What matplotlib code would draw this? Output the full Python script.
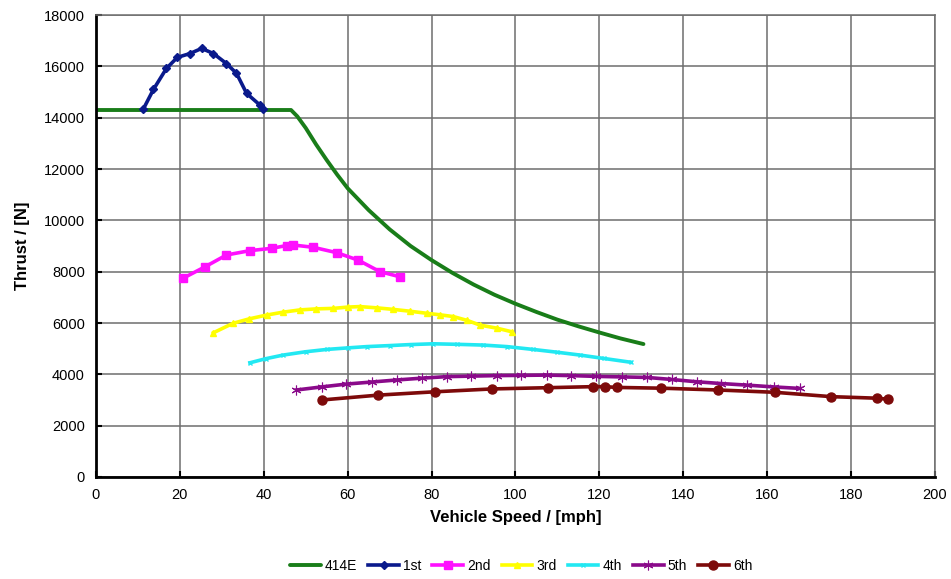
import matplotlib.pyplot as plt
import numpy as np

plt.rcParams['font.family'] = ['Liberation Sans', 'DejaVu Sans']

# Engine envelope (414E) - thrust vs speed
env_speed = [0, 10, 20, 30, 40, 46.5, 48, 50, 52.5, 55, 57.5, 60, 65, 70, 75,
             80, 85, 90, 95, 100, 105, 110, 115, 120, 125, 130.5]
env_thrust = [14300, 14300, 14300, 14300, 14300, 14300, 14050, 13600, 12950,
              12350, 11780, 11250, 10400, 9650, 9000, 8450, 7950, 7500, 7100,
              6750, 6430, 6130, 5870, 5630, 5400, 5180]

# Gear curves
g1_speed = [11.3, 13.7, 16.8, 19.4, 22.4, 25.2, 28.0, 31.1, 33.5, 35.9, 39.1, 39.9]
g1_thrust = [14340, 15100, 15920, 16350, 16500, 16700, 16500, 16110, 15730,
             14950, 14490, 14340]

g2_speed = [20.7, 26.0, 31.1, 36.7, 41.9, 45.5, 47.0, 51.8, 57.4, 62.5, 67.7, 72.5]
g2_thrust = [7740, 8190, 8650, 8820, 8910, 9020, 9040, 8950, 8740, 8450, 8000, 7800]

g3_speed = [28.0, 32.7, 36.5, 40.7, 44.5, 48.6, 52.5, 56.6, 60.0, 62.9, 67.0,
            70.9, 74.8, 78.8, 82.0, 85.2, 88.5, 91.5, 95.5, 99.1]
g3_thrust = [5620, 5990, 6160, 6310, 6420, 6510, 6550, 6570, 6620, 6640, 6590,
             6530, 6460, 6380, 6320, 6250, 6100, 5920, 5800, 5660]

g4_speed = [36.7, 40.5, 44.6, 50.0, 55.0, 60.0, 64.5, 70.0, 75.0, 80.4, 86.0,
            92.3, 98.0, 104.2, 110.0, 115.4, 121.0, 127.5]
g4_thrust = [4450, 4610, 4750, 4880, 4970, 5030, 5080, 5120, 5160, 5190, 5170,
             5140, 5080, 4970, 4860, 4750, 4620, 4470]

g5_speed = [47.8, 53.8, 59.7, 65.7, 71.7, 77.6, 83.6, 89.5, 95.5, 101.4, 107.4,
            113.3, 119.3, 125.3, 131.3, 137.2, 143.2, 149.1, 155.1, 161.5, 167.8]
g5_thrust = [3390, 3510, 3620, 3700, 3780, 3850, 3910, 3930, 3950, 3960, 3970,
             3950, 3920, 3900, 3880, 3800, 3710, 3640, 3580, 3510, 3450]

g6_speed = [53.8, 67.3, 80.8, 94.3, 107.8, 118.5, 121.3, 124.1, 134.8, 148.3,
            161.8, 175.3, 186.1, 188.9]
g6_thrust = [3000, 3190, 3320, 3430, 3480, 3520, 3520, 3490, 3460, 3390, 3300,
             3130, 3070, 3030]

fig = plt.figure(figsize=(9.51, 5.79), dpi=100)
ax = fig.add_axes([0.1009, 0.1762, 0.8823, 0.7978])

ax.plot(env_speed, env_thrust, color='#197d19', lw=2.8, label='414E',
        solid_capstyle='round', solid_joinstyle='round')
ax.plot(g1_speed, g1_thrust, color='#0a1a8c', lw=2.6, marker='D', ms=4.5,
        label='1st')
ax.plot(g2_speed, g2_thrust, color='#ff10ff', lw=2.6, marker='s', ms=6,
        label='2nd')
ax.plot(g3_speed, g3_thrust, color='#ffff00', lw=2.6, marker='^', ms=5,
        label='3rd')
ax.plot(g4_speed, g4_thrust, color='#22e8f2', lw=2.6, marker='x', ms=3,
        mew=1, label='4th')
ax.plot(g5_speed, g5_thrust, color='#8a0a8a', lw=2.6, marker=(6, 2, 0), ms=7,
        mew=0.8, label='5th')
ax.plot(g6_speed, g6_thrust, color='#7d0a0a', lw=2.6, marker='o', ms=6.5,
        label='6th')

ax.set_xlim(0, 200)
ax.set_ylim(0, 18000)
ax.set_xticks(np.arange(0, 201, 20))
ax.set_yticks(np.arange(0, 18001, 2000))
ax.grid(True, color='#6e6e6e', lw=1.1)
ax.set_axisbelow(True)

for side in ['top', 'right']:
    ax.spines[side].set_color('#6e6e6e')
    ax.spines[side].set_linewidth(1.1)
for side in ['left', 'bottom']:
    ax.spines[side].set_color('black')
    ax.spines[side].set_linewidth(2)

ax.tick_params(direction='in', length=4, width=1.5, labelsize=10.5,
               colors='black', pad=8)
ax.set_xlabel('Vehicle Speed / [mph]', fontsize=12, fontweight='bold',
              labelpad=6)
ax.set_ylabel('Thrust / [N]', fontsize=12, fontweight='bold', labelpad=10)

fig.legend(loc='center', bbox_to_anchor=(0.548, 1 - 566 / 579), ncol=7,
           frameon=False, fontsize=10, handlelength=2.2, handletextpad=0.3,
           columnspacing=0.8)

fig.savefig('out.png', dpi=100)
